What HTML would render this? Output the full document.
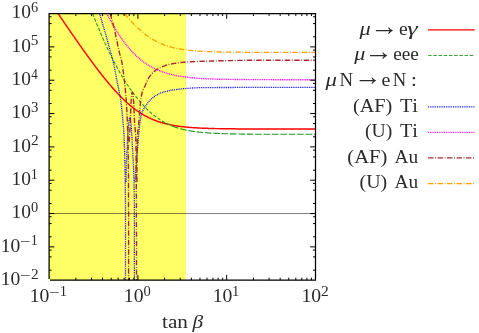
<!DOCTYPE html>
<html><head><meta charset="utf-8"><title>plot</title>
<style>html,body{margin:0;padding:0;background:#fff}svg{display:block}</style>
</head><body>
<svg width="479" height="333" viewBox="0 0 479 333">
<rect x="0" y="0" width="479" height="333" fill="#ffffff"/>
<rect x="49.1" y="13.55" width="136.9" height="266.65" fill="#ffff66"/>
<line x1="49.1" y1="213.54" x2="315.5" y2="213.54" stroke="#000" stroke-width="0.5"/>
<g fill="none" stroke-linejoin="round">
<path d="M58.1,13.6 L58.4,14.0 L58.9,14.7 L59.3,15.3 L59.8,16.0 L60.2,16.6 L60.7,17.3 L61.1,17.9 L61.6,18.6 L62.0,19.2 L62.4,19.9 L62.9,20.6 L63.3,21.2 L63.8,21.9 L64.2,22.5 L64.7,23.2 L65.1,23.8 L65.6,24.5 L66.0,25.1 L66.4,25.8 L66.9,26.4 L67.3,27.1 L67.8,27.7 L68.2,28.3 L68.7,29.0 L69.1,29.6 L69.6,30.3 L70.0,30.9 L70.4,31.6 L70.9,32.2 L71.3,32.9 L71.8,33.5 L72.2,34.2 L72.7,34.8 L73.1,35.4 L73.6,36.1 L74.0,36.7 L74.5,37.4 L74.9,38.0 L75.3,38.6 L75.8,39.3 L76.2,39.9 L76.7,40.5 L77.1,41.2 L77.6,41.8 L78.0,42.5 L78.5,43.1 L78.9,43.7 L79.3,44.4 L79.8,45.0 L80.2,45.6 L80.7,46.2 L81.1,46.9 L81.6,47.5 L82.0,48.1 L82.5,48.8 L82.9,49.4 L83.3,50.0 L83.8,50.6 L84.2,51.3 L84.7,51.9 L85.1,52.5 L85.6,53.1 L86.0,53.7 L86.5,54.4 L86.9,55.0 L87.3,55.6 L87.8,56.2 L88.2,56.8 L88.7,57.4 L89.1,58.0 L89.6,58.6 L90.0,59.3 L90.5,59.9 L90.9,60.5 L91.4,61.1 L91.8,61.7 L92.2,62.3 L92.7,62.9 L93.1,63.5 L93.6,64.1 L94.0,64.7 L94.5,65.3 L94.9,65.9 L95.4,66.4 L95.8,67.0 L96.2,67.6 L96.7,68.2 L97.1,68.8 L97.6,69.4 L98.0,70.0 L98.5,70.5 L98.9,71.1 L99.4,71.7 L99.8,72.3 L100.2,72.8 L100.7,73.4 L101.1,74.0 L101.6,74.5 L102.0,75.1 L102.5,75.7 L102.9,76.2 L103.4,76.8 L103.8,77.4 L104.2,77.9 L104.7,78.5 L105.1,79.0 L105.6,79.6 L106.0,80.1 L106.5,80.6 L106.9,81.2 L107.4,81.7 L107.8,82.3 L108.3,82.8 L108.7,83.3 L109.1,83.9 L109.6,84.4 L110.0,84.9 L110.5,85.4 L110.9,85.9 L111.4,86.5 L111.8,87.0 L112.3,87.5 L112.7,88.0 L113.1,88.5 L113.6,89.0 L114.0,89.5 L114.5,90.0 L114.9,90.5 L115.4,91.0 L115.8,91.5 L116.3,91.9 L116.7,92.4 L117.1,92.9 L117.6,93.4 L118.0,93.8 L118.5,94.3 L118.9,94.8 L119.4,95.2 L119.8,95.7 L120.3,96.2 L120.7,96.6 L121.1,97.1 L121.6,97.5 L122.0,97.9 L122.5,98.4 L122.9,98.8 L123.4,99.2 L123.8,99.7 L124.3,100.1 L124.7,100.5 L125.2,100.9 L125.6,101.3 L126.0,101.7 L126.5,102.2 L126.9,102.6 L127.4,103.0 L127.8,103.3 L128.3,103.7 L128.7,104.1 L129.2,104.5 L129.6,104.9 L130.0,105.3 L130.5,105.6 L130.9,106.0 L131.4,106.4 L131.8,106.7 L132.3,107.1 L132.7,107.4 L133.2,107.8 L133.6,108.1 L134.0,108.5 L134.5,108.8 L134.9,109.1 L135.4,109.5 L135.8,109.8 L136.3,110.1 L136.7,110.4 L137.2,110.8 L137.6,111.1 L138.0,111.4 L138.5,111.7 L138.9,112.0 L139.4,112.3 L139.8,112.6 L140.3,112.8 L140.7,113.1 L141.2,113.4 L141.6,113.7 L142.1,114.0 L142.5,114.2 L142.9,114.5 L143.4,114.8 L143.8,115.0 L144.3,115.3 L144.7,115.5 L145.2,115.8 L145.6,116.0 L146.1,116.2 L146.5,116.5 L146.9,116.7 L147.4,116.9 L147.8,117.2 L148.3,117.4 L148.7,117.6 L149.2,117.8 L149.6,118.0 L150.1,118.2 L150.5,118.5 L150.9,118.7 L151.4,118.9 L151.8,119.0 L152.3,119.2 L152.7,119.4 L153.2,119.6 L153.6,119.8 L154.1,120.0 L154.5,120.2 L154.9,120.3 L155.4,120.5 L155.8,120.7 L156.3,120.8 L156.7,121.0 L157.2,121.2 L157.6,121.3 L158.1,121.5 L158.5,121.6 L159.0,121.8 L159.4,121.9 L159.8,122.1 L160.3,122.2 L160.7,122.3 L161.2,122.5 L161.6,122.6 L162.1,122.7 L162.5,122.9 L163.0,123.0 L163.4,123.1 L163.8,123.2 L164.3,123.4 L164.7,123.5 L165.2,123.6 L165.6,123.7 L166.1,123.8 L166.5,123.9 L167.0,124.0 L167.4,124.1 L167.8,124.2 L168.3,124.3 L168.7,124.4 L169.2,124.5 L169.6,124.6 L170.1,124.7 L170.5,124.8 L171.0,124.9 L171.4,125.0 L171.8,125.1 L172.3,125.2 L172.7,125.2 L173.2,125.3 L173.6,125.4 L174.1,125.5 L174.5,125.6 L175.0,125.6 L175.4,125.7 L175.9,125.8 L176.3,125.8 L176.7,125.9 L177.2,126.0 L177.6,126.0 L178.1,126.1 L178.5,126.2 L179.0,126.2 L179.4,126.3 L179.9,126.4 L180.3,126.4 L180.7,126.5 L181.2,126.5 L181.6,126.6 L182.1,126.6 L182.5,126.7 L183.0,126.7 L183.4,126.8 L183.9,126.8 L184.3,126.9 L184.7,126.9 L185.2,127.0 L185.6,127.0 L186.1,127.1 L186.5,127.1 L187.0,127.1 L187.4,127.2 L187.9,127.2 L188.3,127.3 L188.7,127.3 L189.2,127.3 L189.6,127.4 L190.1,127.4 L190.5,127.4 L191.0,127.5 L191.4,127.5 L191.9,127.5 L192.3,127.6 L192.8,127.6 L193.2,127.6 L193.6,127.7 L194.1,127.7 L194.5,127.7 L195.0,127.8 L195.4,127.8 L195.9,127.8 L196.3,127.8 L196.8,127.9 L197.2,127.9 L197.6,127.9 L198.1,127.9 L198.5,128.0 L199.0,128.0 L199.4,128.0 L199.9,128.0 L200.3,128.1 L200.8,128.1 L201.2,128.1 L201.6,128.1 L202.1,128.1 L202.5,128.2 L203.0,128.2 L203.4,128.2 L203.9,128.2 L204.3,128.2 L204.8,128.2 L205.2,128.3 L205.6,128.3 L206.1,128.3 L206.5,128.3 L207.0,128.3 L207.4,128.3 L207.9,128.4 L208.3,128.4 L208.8,128.4 L209.2,128.4 L209.7,128.4 L210.1,128.4 L210.5,128.4 L211.0,128.5 L211.4,128.5 L211.9,128.5 L212.3,128.5 L212.8,128.5 L213.2,128.5 L213.7,128.5 L214.1,128.5 L214.5,128.5 L215.0,128.6 L215.4,128.6 L215.9,128.6 L216.3,128.6 L216.8,128.6 L217.2,128.6 L217.7,128.6 L218.1,128.6 L218.5,128.6 L219.0,128.6 L219.4,128.6 L219.9,128.7 L220.3,128.7 L220.8,128.7 L221.2,128.7 L221.7,128.7 L222.1,128.7 L222.5,128.7 L223.0,128.7 L223.4,128.7 L223.9,128.7 L224.3,128.7 L224.8,128.7 L225.2,128.7 L225.7,128.7 L226.1,128.8 L226.6,128.8 L227.0,128.8 L227.4,128.8 L227.9,128.8 L228.3,128.8 L228.8,128.8 L229.2,128.8 L229.7,128.8 L230.1,128.8 L230.6,128.8 L231.0,128.8 L231.4,128.8 L231.9,128.8 L232.3,128.8 L232.8,128.8 L233.2,128.8 L233.7,128.8 L234.1,128.8 L234.6,128.8 L235.0,128.8 L235.4,128.8 L235.9,128.9 L236.3,128.9 L236.8,128.9 L237.2,128.9 L237.7,128.9 L238.1,128.9 L238.6,128.9 L239.0,128.9 L239.4,128.9 L239.9,128.9 L240.3,128.9 L240.8,128.9 L241.2,128.9 L241.7,128.9 L242.1,128.9 L242.6,128.9 L243.0,128.9 L243.5,128.9 L243.9,128.9 L244.3,128.9 L244.8,128.9 L245.2,128.9 L245.7,128.9 L246.1,128.9 L246.6,128.9 L247.0,128.9 L247.5,128.9 L247.9,128.9 L248.3,128.9 L248.8,128.9 L249.2,128.9 L249.7,128.9 L250.1,128.9 L250.6,128.9 L251.0,128.9 L251.5,128.9 L251.9,128.9 L252.3,128.9 L252.8,128.9 L253.2,128.9 L253.7,128.9 L254.1,128.9 L254.6,128.9 L255.0,128.9 L255.5,128.9 L255.9,128.9 L256.3,129.0 L256.8,129.0 L257.2,129.0 L257.7,129.0 L258.1,129.0 L258.6,129.0 L259.0,129.0 L259.5,129.0 L259.9,129.0 L260.4,129.0 L260.8,129.0 L261.2,129.0 L261.7,129.0 L262.1,129.0 L262.6,129.0 L263.0,129.0 L263.5,129.0 L263.9,129.0 L264.4,129.0 L264.8,129.0 L265.2,129.0 L265.7,129.0 L266.1,129.0 L266.6,129.0 L267.0,129.0 L267.5,129.0 L267.9,129.0 L268.4,129.0 L268.8,129.0 L269.2,129.0 L269.7,129.0 L270.1,129.0 L270.6,129.0 L271.0,129.0 L271.5,129.0 L271.9,129.0 L272.4,129.0 L272.8,129.0 L273.2,129.0 L273.7,129.0 L274.1,129.0 L274.6,129.0 L275.0,129.0 L275.5,129.0 L275.9,129.0 L276.4,129.0 L276.8,129.0 L277.3,129.0 L277.7,129.0 L278.1,129.0 L278.6,129.0 L279.0,129.0 L279.5,129.0 L279.9,129.0 L280.4,129.0 L280.8,129.0 L281.3,129.0 L281.7,129.0 L282.1,129.0 L282.6,129.0 L283.0,129.0 L283.5,129.0 L283.9,129.0 L284.4,129.0 L284.8,129.0 L285.3,129.0 L285.7,129.0 L286.1,129.0 L286.6,129.0 L287.0,129.0 L287.5,129.0 L287.9,129.0 L288.4,129.0 L288.8,129.0 L289.3,129.0 L289.7,129.0 L290.1,129.0 L290.6,129.0 L291.0,129.0 L291.5,129.0 L291.9,129.0 L292.4,129.0 L292.8,129.0 L293.3,129.0 L293.7,129.0 L294.2,129.0 L294.6,129.0 L295.0,129.0 L295.5,129.0 L295.9,129.0 L296.4,129.0 L296.8,129.0 L297.3,129.0 L297.7,129.0 L298.2,129.0 L298.6,129.0 L299.0,129.0 L299.5,129.0 L299.9,129.0 L300.4,129.0 L300.8,129.0 L301.3,129.0 L301.7,129.0 L302.2,129.0 L302.6,129.0 L303.0,129.0 L303.5,129.0 L303.9,129.0 L304.4,129.0 L304.8,129.0 L305.3,129.0 L305.7,129.0 L306.2,129.0 L306.6,129.0 L307.0,129.0 L307.5,129.0 L307.9,129.0 L308.4,129.0 L308.8,129.0 L309.3,129.0 L309.7,129.0 L310.2,129.0 L310.6,129.0 L311.1,129.0 L311.5,129.0 L311.9,129.0 L312.4,129.0 L312.8,129.0 L313.3,129.0 L313.7,129.0 L314.2,129.0 L314.6,129.0 L315.1,129.0 L315.5,129.0" stroke="#ff0000" stroke-width="1.45"/>
<path d="M92.6,13.6 L92.7,13.7 L93.1,14.9 L93.6,16.0 L94.0,17.1 L94.5,18.2 L94.9,19.3 L95.4,20.4 L95.8,21.5 L96.2,22.6 L96.7,23.7 L97.1,24.8 L97.6,25.9 L98.0,27.0 L98.5,28.0 L98.9,29.1 L99.4,30.1 L99.8,31.2 L100.2,32.2 L100.7,33.3 L101.1,34.3 L101.6,35.4 L102.0,36.4 L102.5,37.4 L102.9,38.4 L103.4,39.4 L103.8,40.4 L104.2,41.4 L104.7,42.4 L105.1,43.4 L105.6,44.4 L106.0,45.3 L106.5,46.3 L106.9,47.3 L107.4,48.2 L107.8,49.2 L108.3,50.1 L108.7,51.0 L109.1,52.0 L109.6,52.9 L110.0,53.8 L110.5,54.7 L110.9,55.6 L111.4,56.5 L111.8,57.4 L112.3,58.3 L112.7,59.2 L113.1,60.0 L113.6,60.9 L114.0,61.8 L114.5,62.6 L114.9,63.5 L115.4,64.3 L115.8,65.1 L116.3,66.0 L116.7,66.8 L117.1,67.6 L117.6,68.4 L118.0,69.2 L118.5,70.0 L118.9,70.8 L119.4,71.6 L119.8,72.4 L120.3,73.1 L120.7,73.9 L121.1,74.7 L121.6,75.4 L122.0,76.2 L122.5,76.9 L122.9,77.6 L123.4,78.4 L123.8,79.1 L124.3,79.8 L124.7,80.5 L125.2,81.2 L125.6,81.9 L126.0,82.6 L126.5,83.3 L126.9,84.0 L127.4,84.7 L127.8,85.4 L128.3,86.0 L128.7,86.7 L129.2,87.4 L129.6,88.0 L130.0,88.6 L130.5,89.3 L130.9,89.9 L131.4,90.5 L131.8,91.2 L132.3,91.8 L132.7,92.4 L133.2,93.0 L133.6,93.6 L134.0,94.2 L134.5,94.8 L134.9,95.4 L135.4,96.0 L135.8,96.5 L136.3,97.1 L136.7,97.7 L137.2,98.2 L137.6,98.8 L138.0,99.3 L138.5,99.9 L138.9,100.4 L139.4,100.9 L139.8,101.4 L140.3,102.0 L140.7,102.5 L141.2,103.0 L141.6,103.5 L142.1,104.0 L142.5,104.5 L142.9,105.0 L143.4,105.4 L143.8,105.9 L144.3,106.4 L144.7,106.9 L145.2,107.3 L145.6,107.8 L146.1,108.2 L146.5,108.7 L146.9,109.1 L147.4,109.5 L147.8,110.0 L148.3,110.4 L148.7,110.8 L149.2,111.2 L149.6,111.6 L150.1,112.0 L150.5,112.4 L150.9,112.8 L151.4,113.2 L151.8,113.6 L152.3,114.0 L152.7,114.3 L153.2,114.7 L153.6,115.1 L154.1,115.4 L154.5,115.8 L154.9,116.1 L155.4,116.4 L155.8,116.8 L156.3,117.1 L156.7,117.4 L157.2,117.8 L157.6,118.1 L158.1,118.4 L158.5,118.7 L159.0,119.0 L159.4,119.3 L159.8,119.6 L160.3,119.9 L160.7,120.1 L161.2,120.4 L161.6,120.7 L162.1,121.0 L162.5,121.2 L163.0,121.5 L163.4,121.7 L163.8,122.0 L164.3,122.2 L164.7,122.5 L165.2,122.7 L165.6,123.0 L166.1,123.2 L166.5,123.4 L167.0,123.6 L167.4,123.9 L167.8,124.1 L168.3,124.3 L168.7,124.5 L169.2,124.7 L169.6,124.9 L170.1,125.1 L170.5,125.3 L171.0,125.5 L171.4,125.7 L171.8,125.8 L172.3,126.0" stroke="#219a21" stroke-width="1.1" stroke-dasharray="3.5 1.7"/>
<path d="M172.3,126.0 L172.7,126.2 L173.2,126.4 L173.6,126.5 L174.1,126.7 L174.5,126.9 L175.0,127.0 L175.4,127.2 L175.9,127.3 L176.3,127.5 L176.7,127.6 L177.2,127.8 L177.6,127.9 L178.1,128.0 L178.5,128.2 L179.0,128.3 L179.4,128.4 L179.9,128.6 L180.3,128.7 L180.7,128.8 L181.2,128.9 L181.6,129.0 L182.1,129.2 L182.5,129.3 L183.0,129.4 L183.4,129.5 L183.9,129.6 L184.3,129.7 L184.7,129.8 L185.2,129.9 L185.6,130.0 L186.1,130.1 L186.5,130.2 L187.0,130.3 L187.4,130.4 L187.9,130.4 L188.3,130.5 L188.7,130.6 L189.2,130.7 L189.6,130.8 L190.1,130.9 L190.5,130.9 L191.0,131.0 L191.4,131.1 L191.9,131.1 L192.3,131.2 L192.8,131.3 L193.2,131.4 L193.6,131.4 L194.1,131.5 L194.5,131.5 L195.0,131.6 L195.4,131.7 L195.9,131.7 L196.3,131.8 L196.8,131.8 L197.2,131.9 L197.6,131.9 L198.1,132.0 L198.5,132.1 L199.0,132.1 L199.4,132.2 L199.9,132.2 L200.3,132.2 L200.8,132.3 L201.2,132.3 L201.6,132.4 L202.1,132.4 L202.5,132.5 L203.0,132.5 L203.4,132.5 L203.9,132.6 L204.3,132.6 L204.8,132.7 L205.2,132.7 L205.6,132.7 L206.1,132.8 L206.5,132.8 L207.0,132.8 L207.4,132.9 L207.9,132.9 L208.3,132.9 L208.8,133.0 L209.2,133.0 L209.7,133.0 L210.1,133.1 L210.5,133.1 L211.0,133.1 L211.4,133.1 L211.9,133.2 L212.3,133.2 L212.8,133.2 L213.2,133.2 L213.7,133.3 L214.1,133.3 L214.5,133.3 L215.0,133.3 L215.4,133.4 L215.9,133.4 L216.3,133.4 L216.8,133.4 L217.2,133.4 L217.7,133.5 L218.1,133.5 L218.5,133.5 L219.0,133.5 L219.4,133.5 L219.9,133.5 L220.3,133.6 L220.8,133.6 L221.2,133.6 L221.7,133.6 L222.1,133.6 L222.5,133.6 L223.0,133.7 L223.4,133.7 L223.9,133.7 L224.3,133.7 L224.8,133.7 L225.2,133.7 L225.7,133.7 L226.1,133.8 L226.6,133.8 L227.0,133.8 L227.4,133.8 L227.9,133.8 L228.3,133.8 L228.8,133.8 L229.2,133.8 L229.7,133.8 L230.1,133.9 L230.6,133.9 L231.0,133.9 L231.4,133.9 L231.9,133.9 L232.3,133.9 L232.8,133.9 L233.2,133.9 L233.7,133.9 L234.1,133.9 L234.6,133.9 L235.0,134.0 L235.4,134.0 L235.9,134.0 L236.3,134.0 L236.8,134.0 L237.2,134.0 L237.7,134.0 L238.1,134.0 L238.6,134.0 L239.0,134.0 L239.4,134.0 L239.9,134.0 L240.3,134.0 L240.8,134.0 L241.2,134.0 L241.7,134.1 L242.1,134.1 L242.6,134.1 L243.0,134.1 L243.5,134.1 L243.9,134.1 L244.3,134.1 L244.8,134.1 L245.2,134.1 L245.7,134.1 L246.1,134.1 L246.6,134.1 L247.0,134.1 L247.5,134.1 L247.9,134.1 L248.3,134.1 L248.8,134.1 L249.2,134.1 L249.7,134.1 L250.1,134.1 L250.6,134.1 L251.0,134.1 L251.5,134.1 L251.9,134.2 L252.3,134.2 L252.8,134.2 L253.2,134.2 L253.7,134.2 L254.1,134.2 L254.6,134.2 L255.0,134.2 L255.5,134.2 L255.9,134.2 L256.3,134.2 L256.8,134.2 L257.2,134.2 L257.7,134.2 L258.1,134.2 L258.6,134.2 L259.0,134.2 L259.5,134.2 L259.9,134.2 L260.4,134.2 L260.8,134.2 L261.2,134.2 L261.7,134.2 L262.1,134.2 L262.6,134.2 L263.0,134.2 L263.5,134.2 L263.9,134.2 L264.4,134.2 L264.8,134.2 L265.2,134.2 L265.7,134.2 L266.1,134.2 L266.6,134.2 L267.0,134.2 L267.5,134.2 L267.9,134.2 L268.4,134.2 L268.8,134.2 L269.2,134.2 L269.7,134.2 L270.1,134.2 L270.6,134.2 L271.0,134.2 L271.5,134.2 L271.9,134.2 L272.4,134.2 L272.8,134.2 L273.2,134.2 L273.7,134.2 L274.1,134.3 L274.6,134.3 L275.0,134.3 L275.5,134.3 L275.9,134.3 L276.4,134.3 L276.8,134.3 L277.3,134.3 L277.7,134.3 L278.1,134.3 L278.6,134.3 L279.0,134.3 L279.5,134.3 L279.9,134.3 L280.4,134.3 L280.8,134.3 L281.3,134.3 L281.7,134.3 L282.1,134.3 L282.6,134.3 L283.0,134.3 L283.5,134.3 L283.9,134.3 L284.4,134.3 L284.8,134.3 L285.3,134.3 L285.7,134.3 L286.1,134.3 L286.6,134.3 L287.0,134.3 L287.5,134.3 L287.9,134.3 L288.4,134.3 L288.8,134.3 L289.3,134.3 L289.7,134.3 L290.1,134.3 L290.6,134.3 L291.0,134.3 L291.5,134.3 L291.9,134.3 L292.4,134.3 L292.8,134.3 L293.3,134.3 L293.7,134.3 L294.2,134.3 L294.6,134.3 L295.0,134.3 L295.5,134.3 L295.9,134.3 L296.4,134.3 L296.8,134.3 L297.3,134.3 L297.7,134.3 L298.2,134.3 L298.6,134.3 L299.0,134.3 L299.5,134.3 L299.9,134.3 L300.4,134.3 L300.8,134.3 L301.3,134.3 L301.7,134.3 L302.2,134.3 L302.6,134.3 L303.0,134.3 L303.5,134.3 L303.9,134.3 L304.4,134.3 L304.8,134.3 L305.3,134.3 L305.7,134.3 L306.2,134.3 L306.6,134.3 L307.0,134.3 L307.5,134.3 L307.9,134.3 L308.4,134.3 L308.8,134.3 L309.3,134.3 L309.7,134.3 L310.2,134.3 L310.6,134.3 L311.1,134.3 L311.5,134.3 L311.9,134.3 L312.4,134.3 L312.8,134.3 L313.3,134.3 L313.7,134.3 L314.2,134.3 L314.6,134.3 L315.1,134.3 L315.5,134.3" stroke="#219a21" stroke-width="1.1" stroke-dasharray="6.6 1.8"/>
<path d="M99.5,13.6 L99.8,14.4 L100.0,15.3 L100.3,16.1 L100.6,17.0 L100.8,17.9 L101.1,18.7 L101.3,19.6 L101.6,20.4 L101.9,21.3 L102.1,22.2 L102.4,23.0 L102.6,23.9 L102.9,24.8 L103.1,25.6 L103.4,26.5 L103.7,27.4 L103.9,28.2 L104.2,29.1 L104.4,30.0 L104.7,30.8 L104.9,31.7 L105.2,32.6 L105.4,33.4 L105.7,34.3 L105.9,35.2 L106.1,36.0 L106.4,36.9 L106.6,37.8 L106.9,38.6 L107.1,39.5 L107.4,40.4 L107.6,41.2 L107.8,42.1 L108.1,43.0 L108.3,43.8 L108.5,44.7 L108.8,45.6 L109.0,46.4 L109.3,47.3 L109.5,48.2 L109.7,49.1 L110.0,49.9 L110.2,50.8 L110.5,51.7 L110.7,52.5 L111.0,53.4 L111.2,54.3 L111.5,55.1 L111.7,56.0 L111.9,56.9 L112.2,57.7 L112.4,58.6 L112.6,59.5 L112.8,60.3 L113.1,61.2 L113.3,62.1 L113.5,63.0 L113.6,63.9 L113.8,64.7 L114.0,65.6 L114.2,66.5 L114.4,67.4 L114.6,68.3 L114.7,69.2 L114.9,70.0 L115.1,70.9 L115.3,71.8 L115.4,72.7 L115.6,73.6 L115.8,74.5 L115.9,75.4 L116.1,76.2 L116.3,77.1 L116.4,78.0 L116.6,78.9 L116.8,79.8 L116.9,80.7 L117.1,81.6 L117.3,82.4 L117.5,83.3 L117.6,84.2 L117.8,85.1 L118.0,86.0 L118.2,86.9 L118.4,87.7 L118.6,88.6 L118.7,89.5 L118.9,90.4 L119.1,91.3 L119.3,92.2 L119.5,93.0 L119.6,93.9 L119.8,94.8 L120.0,95.7 L120.1,96.6 L120.3,97.5 L120.4,98.4 L120.5,99.2 L120.7,100.1 L120.8,101.0 L120.9,101.9 L121.0,102.8 L121.2,103.7 L121.3,104.6 L121.4,105.5 L121.5,106.4 L121.6,107.3 L121.7,108.2 L121.8,109.1 L121.9,110.0 L122.0,110.9 L122.1,111.8 L122.1,112.7 L122.2,113.6 L122.3,114.5 L122.4,115.4 L122.5,116.3 L122.6,117.2 L122.6,118.1 L122.7,119.0 L122.8,119.8 L122.9,120.7 L123.0,121.6 L123.0,122.5 L123.1,123.4 L123.2,124.3 L123.2,125.2 L123.3,126.1 L123.4,127.0 L123.5,127.9 L123.5,128.8 L123.6,129.7 L123.7,130.6 L123.7,131.5 L123.8,132.4 L123.9,133.3 L123.9,134.2 L124.0,135.1 L124.0,136.0 L124.1,136.9 L124.1,137.8 L124.1,138.7 L124.2,139.6 L124.2,140.5 L124.3,141.4 L124.3,142.3 L124.3,143.2 L124.3,144.1 L124.4,145.0 L124.4,145.9 L124.4,146.8 L124.5,147.7 L124.5,148.6 L124.5,149.5 L124.6,150.4 L124.6,151.3 L124.6,152.2 L124.6,153.1 L124.7,154.0 L124.7,154.9 L124.7,155.8 L124.7,156.7 L124.7,157.6 L124.8,158.5 L124.8,159.4 L124.8,160.3 L124.8,161.2 L124.9,162.1 L124.9,163.0 L124.9,163.9 L124.9,164.8 L124.9,165.7 L125.0,166.7 L125.0,167.6 L125.0,168.5 L125.0,169.4 L125.0,170.3 L125.0,171.2 L125.1,172.1 L125.1,173.0 L125.1,173.9 L125.1,174.8 L125.1,175.7 L125.1,176.6 L125.1,177.5 L125.2,178.4 L125.2,179.3 L125.2,180.2 L125.2,181.1 L125.2,182.0 L125.2,182.9 L125.2,183.8 L125.2,184.7 L125.2,185.6 L125.3,186.5 L125.3,187.4 L125.3,188.3 L125.3,189.2 L125.3,190.1 L125.3,191.0 L125.3,191.9 L125.3,192.8 L125.3,193.7 L125.4,194.6 L125.4,195.5 L125.4,196.4 L125.4,197.3 L125.4,198.2 L125.4,199.1 L125.4,200.0 L125.4,200.9 L125.4,201.8 L125.4,202.7 L125.5,203.6 L125.5,204.5 L125.5,205.4 L125.5,206.3 L125.5,207.2 L125.5,208.1 L125.5,209.0 L125.5,209.9 L125.5,210.8 L125.5,211.7 L125.5,212.6 L125.5,213.5 L125.5,214.4 L125.5,215.3 L125.5,216.2 L125.5,217.1 L125.5,218.0 L125.5,218.9 L125.5,219.8 L125.5,220.7 L125.5,221.6 L125.5,222.5 L125.5,223.4 L125.5,224.3 L125.5,225.2 L125.5,226.1 L125.5,227.0 L125.5,227.9 L125.5,228.8 L125.5,229.7 L125.5,230.6 L125.5,231.5 L125.5,232.4 L125.5,233.3 L125.5,234.2 L125.5,235.1 L125.5,236.0 L125.5,236.9 L125.5,237.8 L125.5,238.7 L125.5,239.6 L125.5,240.5 L125.5,241.4 L125.5,242.3 L125.5,243.3 L125.5,244.2 L125.5,245.1 L125.5,246.0 L125.5,246.9 L125.5,247.8 L125.5,248.7 L125.5,249.6 L125.5,250.5 L125.5,251.4 L125.5,252.3 L125.5,253.2 L125.5,254.1 L125.5,255.0 L125.5,255.9 L125.5,256.8 L125.5,257.7 L125.5,258.6 L125.5,259.5 L125.5,260.4 L125.5,261.3 L125.5,262.2 L125.5,263.1 L125.5,264.0 L125.5,264.9 L125.5,265.8 L125.5,266.7 L125.5,267.6 L125.5,268.5 L125.5,269.4 L125.5,270.3 L125.5,271.2 L125.5,272.1 L125.5,273.0 L125.5,273.9 L125.5,274.8 L125.5,275.7 L125.5,276.6 L125.5,277.5 L125.5,278.4 L125.5,279.3 L125.5,280.2 M126.0,182.0 L126.0,181.2 L126.0,180.5 L126.0,179.7 L126.0,179.0 L126.1,178.2 L126.1,177.4 L126.1,176.7 L126.1,175.9 L126.1,175.1 L126.1,174.4 L126.2,173.6 L126.2,172.9 L126.2,172.1 L126.2,171.3 L126.2,170.6 L126.3,169.8 L126.3,169.1 L126.3,168.3 L126.3,167.5 L126.4,166.8 L126.4,166.0 L126.4,165.3 L126.4,164.5 L126.5,163.7 L126.5,163.0 L126.5,162.2 L126.5,161.5 L126.6,160.7 L126.6,159.9 L126.6,159.2 L126.7,158.4 L126.7,157.7 L126.7,156.9 L126.8,156.1 L126.8,155.4 L126.8,154.6 L126.9,153.8 L126.9,153.1 L126.9,152.3 L127.0,151.6 L127.0,150.8 L127.0,150.0 L127.1,149.3 L127.1,148.5 L127.2,147.8 L127.2,147.0 L127.2,146.2 L127.3,145.5 L127.3,144.7 L127.3,144.0 L127.4,143.2 L127.4,142.4 L127.5,141.7 L127.5,140.9 L127.5,140.2 L127.6,139.4 L127.6,138.7 L127.7,137.9 L127.7,137.1 L127.7,136.4 L127.8,135.6 L127.8,134.8 L127.9,134.1 L127.9,133.3 L128.0,132.6 L128.0,131.8 L128.1,131.0 L128.1,130.3 L128.2,129.5 L128.3,128.8 L128.3,128.0 L128.4,127.3 L128.5,126.5 L128.5,125.7 L128.6,125.0 L128.7,124.2 L128.8,123.2 L128.9,122.2 L129.0,121.2 L129.1,120.3 L129.3,119.4 L129.4,118.6 L129.5,118.0 L129.7,117.6 L129.8,117.5 L130.0,117.7 L130.1,118.2 L130.3,119.0 L130.5,119.9 L130.6,120.9 L130.8,121.9 L130.9,122.7 L131.0,123.5 L131.0,124.3 L131.1,125.0 L131.2,125.8 L131.2,126.5 L131.3,127.3 L131.4,128.0 L131.4,128.8 L131.5,129.6 L131.5,130.3 L131.6,131.1 L131.6,131.8 L131.7,132.6 L131.7,133.4 L131.7,134.1 L131.8,134.9 L131.8,135.6 L131.9,136.4 L131.9,137.2 L131.9,137.9 L132.0,138.7 L132.0,139.5 L132.1,140.2 L132.1,141.0 L132.2,141.7 L132.2,142.5 L132.2,143.3 L132.3,144.0 L132.3,144.8 L132.4,145.5 L132.4,146.3 L132.5,147.1 L132.5,147.8 L132.6,148.6 L132.6,149.3 L132.6,150.1 L132.7,150.9 L132.7,151.6 L132.8,152.4 L132.8,153.1 L132.9,153.9 L132.9,154.7 L132.9,155.4 L133.0,156.2 L133.0,156.9 L133.1,157.7 L133.1,158.5 L133.1,159.2 L133.2,160.0 L133.2,160.7 L133.3,161.5 L133.3,162.3 L133.3,163.0 L133.4,163.8 L133.4,164.5 L133.4,165.3 L133.5,166.1 L133.5,166.8 L133.5,167.6 L133.6,168.3 L133.6,169.1 L133.6,169.9 L133.7,170.6 L133.7,171.4 L133.7,172.1 L133.7,172.9 L133.8,173.7 L133.8,174.4 L133.8,175.2 L133.9,175.9 L133.9,176.7 L133.9,177.5 L133.9,178.2 L133.9,179.0 L134.0,179.7 L134.0,180.5 L134.0,181.3 L134.0,182.0 L134.0,182.8 L134.0,183.5 L134.0,184.3 L134.1,185.1 L134.1,185.8 L134.1,186.6 L134.1,187.4 L134.1,188.1 L134.1,188.9 L134.1,189.6 L134.2,190.4 L134.2,191.2 L134.2,191.9 L134.2,192.7 L134.2,193.4 L134.2,194.2 L134.2,195.0 L134.2,195.7 L134.2,196.5 L134.3,197.2 L134.3,198.0 L134.3,198.8 L134.3,199.5 L134.3,200.3 L134.3,201.0 L134.3,201.8 L134.3,202.6 L134.3,203.3 L134.3,204.1 L134.4,204.9 L134.4,205.6 L134.4,206.4 L134.4,207.1 L134.4,207.9 L134.4,208.7 L134.4,209.4 L134.4,210.2 L134.4,210.9 L134.4,211.7 L134.4,212.5 L134.4,213.2 L134.4,214.0 L134.4,214.7 L134.4,215.5 L134.4,216.3 L134.4,217.0 L134.4,217.8 L134.4,218.6 L134.4,219.3 L134.4,220.1 L134.4,220.8 L134.4,221.6 L134.4,222.4 L134.4,223.1 L134.4,223.9 L134.4,224.6 L134.4,225.4 L134.4,226.2 L134.4,226.9 L134.4,227.7 L134.4,228.4 L134.4,229.2 L134.4,230.0 L134.4,230.7 L134.4,231.5 L134.4,232.3 L134.4,233.0 L134.4,233.8 L134.4,234.5 L134.4,235.3 L134.4,236.1 L134.4,236.8 L134.4,237.6 L134.4,238.3 L134.4,239.1 L134.4,239.9 L134.4,240.6 L134.4,241.4 L134.4,242.1 L134.4,242.9 L134.4,243.7 L134.4,244.4 L134.4,245.2 L134.4,246.0 L134.4,246.7 L134.4,247.5 L134.4,248.2 L134.4,249.0 L134.4,249.8 L134.4,250.5 L134.4,251.3 L134.4,252.0 L134.4,252.8 L134.4,253.6 L134.4,254.3 L134.4,255.1 L134.4,255.8 L134.4,256.6 L134.4,257.4 L134.4,258.1 L134.4,258.9 L134.4,259.7 L134.4,260.4 L134.4,261.2 L134.4,261.9 L134.4,262.7 L134.4,263.5 L134.4,264.2 L134.4,265.0 L134.4,265.7 L134.4,266.5 L134.4,267.3 L134.4,268.0 L134.4,268.8 L134.4,269.5 L134.4,270.3 L134.4,271.1 L134.4,271.8 L134.4,272.6 L134.4,273.4 L134.4,274.1 L134.4,274.9 L134.4,275.6 L134.4,276.4 L134.4,277.2 L134.4,277.9 L134.4,278.7 L134.4,279.4 L134.4,280.2 M135.1,182.0 L135.1,181.2 L135.2,180.3 L135.2,179.5 L135.3,178.6 L135.3,177.8 L135.4,176.9 L135.4,176.1 L135.5,175.2 L135.5,174.4 L135.6,173.6 L135.6,172.7 L135.7,171.9 L135.8,171.0 L135.8,170.2 L135.9,169.3 L135.9,168.5 L136.0,167.6 L136.0,166.8 L136.1,166.0 L136.2,165.1 L136.2,164.3 L136.3,163.4 L136.3,162.6 L136.4,161.7 L136.5,160.9 L136.5,160.1 L136.6,159.2 L136.7,158.4 L136.7,157.5 L136.8,156.7 L136.9,155.8 L136.9,155.0 L137.0,154.2 L137.1,153.3 L137.1,152.5 L137.2,151.6 L137.3,150.8 L137.3,149.9 L137.4,149.1 L137.5,148.3 L137.6,147.4 L137.6,146.6 L137.7,145.7 L137.8,144.9 L137.9,144.0 L137.9,143.2 L138.0,142.4 L138.1,141.5 L138.2,140.7 L138.2,139.8 L138.3,139.0 L138.4,138.2 L138.5,137.3 L138.5,136.5 L138.6,135.6 L138.7,134.8 L138.8,133.9 L138.8,133.1 L138.9,132.3 L139.0,131.4 L139.1,130.6 L139.2,129.7 L139.2,128.9 L139.3,128.0 L139.4,127.2 L139.5,126.4 L139.6,125.5 L139.7,124.7 L139.8,123.8 L139.9,123.0 L140.0,122.2 L140.2,121.3 L140.3,120.5 L140.4,119.7 L140.5,118.8 L140.7,118.0 L140.8,117.1 L141.0,116.3 L141.1,115.5 L141.3,114.7 L141.5,113.9 L141.8,113.1 L142.1,112.3 L142.4,111.5 L142.8,110.8 L143.2,110.0 L143.7,109.2 L144.1,108.5 L144.5,107.8 L145.0,107.1 L145.4,106.3 L145.9,105.6 L146.3,104.9 L146.8,104.2 L147.3,103.5 L147.8,102.8 L148.4,102.2 L148.9,101.5 L149.5,100.9 L150.0,100.3 L150.6,99.7 L151.2,99.1 L151.8,98.5 L152.5,98.0 L153.2,97.4 L153.8,96.9 L154.5,96.4 L155.2,96.0 L155.9,95.5 L156.6,95.0 L157.4,94.6 L158.1,94.2 L158.9,93.8 L159.6,93.4 L160.4,93.1 L161.2,92.8 L162.0,92.6 L162.8,92.3 L163.6,92.0 L164.4,91.8 L165.2,91.6 L166.1,91.4 L166.9,91.1 L167.7,91.0 L168.6,90.8 L169.4,90.6 L170.2,90.5 L171.0,90.3 L171.9,90.2 L172.7,90.0 L173.5,89.9 L174.4,89.8 L175.2,89.7 L176.0,89.6 L176.9,89.4 L177.7,89.3 L178.6,89.2 L179.4,89.1 L180.3,89.0 L181.1,88.9 L181.9,88.9 L182.8,88.8 L183.6,88.7 L184.5,88.6 L185.3,88.6 L186.2,88.5 L187.0,88.4 L187.8,88.4 L188.7,88.3 L189.5,88.2 L190.4,88.2 L191.2,88.1 L192.1,88.0 L192.9,88.0 L193.7,87.9 L194.6,87.9 L195.4,87.8 L196.3,87.8 L197.1,87.8 L198.0,87.7 L198.8,87.7 L199.7,87.7 L200.5,87.7 L201.4,87.7 L202.2,87.7 L203.0,87.7 L203.9,87.7 L204.7,87.7 L205.6,87.6 L206.4,87.6 L207.3,87.6 L208.1,87.6 L209.0,87.6 L209.8,87.6 L210.6,87.6 L211.5,87.6 L212.3,87.6 L213.2,87.6 L214.0,87.6 L214.9,87.6 L215.7,87.6 L216.6,87.5 L217.4,87.5 L218.3,87.5 L219.1,87.5 L219.9,87.5 L220.8,87.5 L221.6,87.5 L222.5,87.5 L223.3,87.5 L224.2,87.5 L225.0,87.5 L225.9,87.5 L226.7,87.5 L227.6,87.5 L228.4,87.5 L229.2,87.5 L230.1,87.5 L230.9,87.5 L231.8,87.5 L232.6,87.5 L233.5,87.5 L234.3,87.4 L235.2,87.4 L236.0,87.4 L236.9,87.4 L237.7,87.4 L238.6,87.4 L239.4,87.4 L240.2,87.4 L241.1,87.4 L241.9,87.4 L242.8,87.4 L243.6,87.4 L244.5,87.4 L245.3,87.4 L246.2,87.4 L247.0,87.4 L247.9,87.4 L248.7,87.4 L249.5,87.4 L250.4,87.4 L251.2,87.4 L252.1,87.4 L252.9,87.4 L253.8,87.4 L254.6,87.4 L255.5,87.4 L256.3,87.4 L257.2,87.4 L258.0,87.4 L258.8,87.4 L259.7,87.4 L260.5,87.4 L261.4,87.4 L262.2,87.4 L263.1,87.4 L263.9,87.4 L264.8,87.4 L265.6,87.4 L266.5,87.4 L267.3,87.4 L268.1,87.4 L269.0,87.4 L269.8,87.4 L270.7,87.4 L271.5,87.4 L272.4,87.4 L273.2,87.4 L274.1,87.4 L274.9,87.4 L275.8,87.4 L276.6,87.4 L277.5,87.4 L278.3,87.4 L279.1,87.4 L280.0,87.4 L280.8,87.4 L281.7,87.4 L282.5,87.4 L283.4,87.4 L284.2,87.4 L285.1,87.4 L285.9,87.4 L286.8,87.4 L287.6,87.4 L288.4,87.4 L289.3,87.4 L290.1,87.4 L291.0,87.4 L291.8,87.4 L292.7,87.4 L293.5,87.4 L294.4,87.4 L295.2,87.4 L296.1,87.4 L296.9,87.4 L297.7,87.4 L298.6,87.4 L299.4,87.4 L300.3,87.4 L301.1,87.4 L302.0,87.4 L302.8,87.4 L303.7,87.4 L304.5,87.4 L305.4,87.4 L306.2,87.4 L307.0,87.4 L307.9,87.4 L308.7,87.4 L309.6,87.4 L310.4,87.4 L311.3,87.4 L312.1,87.4 L313.0,87.4 L313.8,87.4 L314.7,87.4 L315.5,87.4" stroke="#0000ff" stroke-width="1.3" stroke-dasharray="0.9 0.9"/>
<path d="M106.6,13.6 L106.9,14.1 L107.4,14.9 L107.8,15.7 L108.3,16.5 L108.7,17.3 L109.1,18.1 L109.6,18.9 L110.0,19.7 L110.5,20.5 L110.9,21.3 L111.4,22.1 L111.8,22.9 L112.3,23.6 L112.7,24.4 L113.1,25.2 L113.6,25.9 L114.0,26.7 L114.5,27.4 L114.9,28.2 L115.4,28.9 L115.8,29.6 L116.3,30.3 L116.7,31.1 L117.1,31.8 L117.6,32.5 L118.0,33.2 L118.5,33.8 L118.9,34.5 L119.4,35.2 L119.8,35.9 L120.3,36.5 L120.7,37.2 L121.1,37.8 L121.6,38.5 L122.0,39.1 L122.5,39.8 L122.9,40.4 L123.4,41.0 L123.8,41.6 L124.3,42.2 L124.7,42.8 L125.2,43.4 L125.6,44.0 L126.0,44.5 L126.5,45.1 L126.9,45.7 L127.4,46.2 L127.8,46.8 L128.3,47.3 L128.7,47.8 L129.2,48.4 L129.6,48.9 L130.0,49.4 L130.5,49.9 L130.9,50.4 L131.4,50.9 L131.8,51.4 L132.3,51.9 L132.7,52.3 L133.2,52.8 L133.6,53.3 L134.0,53.7 L134.5,54.2 L134.9,54.6 L135.4,55.0 L135.8,55.5 L136.3,55.9 L136.7,56.3 L137.2,56.7 L137.6,57.1 L138.0,57.5 L138.5,57.9 L138.9,58.3 L139.4,58.6 L139.8,59.0 L140.3,59.4 L140.7,59.7 L141.2,60.1 L141.6,60.4 L142.1,60.8 L142.5,61.1 L142.9,61.5 L143.4,61.8 L143.8,62.1 L144.3,62.4 L144.7,62.7 L145.2,63.1 L145.6,63.4 L146.1,63.7 L146.5,63.9 L146.9,64.2 L147.4,64.5 L147.8,64.8 L148.3,65.1 L148.7,65.3 L149.2,65.6 L149.6,65.9 L150.1,66.1 L150.5,66.4 L150.9,66.6 L151.4,66.9 L151.8,67.1 L152.3,67.4 L152.7,67.6 L153.2,67.8 L153.6,68.0 L154.1,68.3 L154.5,68.5 L154.9,68.7 L155.4,68.9 L155.8,69.1 L156.3,69.3 L156.7,69.5 L157.2,69.7 L157.6,69.9 L158.1,70.1 L158.5,70.3 L159.0,70.5 L159.4,70.6 L159.8,70.8 L160.3,71.0 L160.7,71.2 L161.2,71.3 L161.6,71.5 L162.1,71.7 L162.5,71.8 L163.0,72.0 L163.4,72.1 L163.8,72.3 L164.3,72.4 L164.7,72.6 L165.2,72.7 L165.6,72.9 L166.1,73.0 L166.5,73.1 L167.0,73.3 L167.4,73.4 L167.8,73.5 L168.3,73.6 L168.7,73.8 L169.2,73.9 L169.6,74.0 L170.1,74.1 L170.5,74.2 L171.0,74.4 L171.4,74.5 L171.8,74.6 L172.3,74.7 L172.7,74.8 L173.2,74.9 L173.6,75.0 L174.1,75.1 L174.5,75.2 L175.0,75.3 L175.4,75.4 L175.9,75.5 L176.3,75.5 L176.7,75.6 L177.2,75.7 L177.6,75.8 L178.1,75.9 L178.5,76.0 L179.0,76.0 L179.4,76.1 L179.9,76.2 L180.3,76.3 L180.7,76.3 L181.2,76.4 L181.6,76.5 L182.1,76.5 L182.5,76.6 L183.0,76.7 L183.4,76.7 L183.9,76.8 L184.3,76.9 L184.7,76.9 L185.2,77.0 L185.6,77.0 L186.1,77.1 L186.5,77.2 L187.0,77.2 L187.4,77.3 L187.9,77.3 L188.3,77.4 L188.7,77.4 L189.2,77.5 L189.6,77.5 L190.1,77.6 L190.5,77.6 L191.0,77.7 L191.4,77.7 L191.9,77.7 L192.3,77.8 L192.8,77.8 L193.2,77.9 L193.6,77.9 L194.1,77.9 L194.5,78.0 L195.0,78.0 L195.4,78.1 L195.9,78.1 L196.3,78.1 L196.8,78.2 L197.2,78.2 L197.6,78.2 L198.1,78.3 L198.5,78.3 L199.0,78.3 L199.4,78.4 L199.9,78.4 L200.3,78.4 L200.8,78.4 L201.2,78.5 L201.6,78.5 L202.1,78.5 L202.5,78.5 L203.0,78.6 L203.4,78.6 L203.9,78.6 L204.3,78.6 L204.8,78.7 L205.2,78.7 L205.6,78.7 L206.1,78.7 L206.5,78.8 L207.0,78.8 L207.4,78.8 L207.9,78.8 L208.3,78.8 L208.8,78.9 L209.2,78.9 L209.7,78.9 L210.1,78.9 L210.5,78.9 L211.0,78.9 L211.4,79.0 L211.9,79.0 L212.3,79.0 L212.8,79.0 L213.2,79.0 L213.7,79.0 L214.1,79.1 L214.5,79.1 L215.0,79.1 L215.4,79.1 L215.9,79.1 L216.3,79.1 L216.8,79.1 L217.2,79.1 L217.7,79.2 L218.1,79.2 L218.5,79.2 L219.0,79.2 L219.4,79.2 L219.9,79.2 L220.3,79.2 L220.8,79.2 L221.2,79.2 L221.7,79.3 L222.1,79.3 L222.5,79.3 L223.0,79.3 L223.4,79.3 L223.9,79.3 L224.3,79.3 L224.8,79.3 L225.2,79.3 L225.7,79.3 L226.1,79.3 L226.6,79.3 L227.0,79.4 L227.4,79.4 L227.9,79.4 L228.3,79.4 L228.8,79.4 L229.2,79.4 L229.7,79.4 L230.1,79.4 L230.6,79.4 L231.0,79.4 L231.4,79.4 L231.9,79.4 L232.3,79.4 L232.8,79.4 L233.2,79.4 L233.7,79.4 L234.1,79.5 L234.6,79.5 L235.0,79.5 L235.4,79.5 L235.9,79.5 L236.3,79.5 L236.8,79.5 L237.2,79.5 L237.7,79.5 L238.1,79.5 L238.6,79.5 L239.0,79.5 L239.4,79.5 L239.9,79.5 L240.3,79.5 L240.8,79.5 L241.2,79.5 L241.7,79.5 L242.1,79.5 L242.6,79.5 L243.0,79.5 L243.5,79.5 L243.9,79.5 L244.3,79.5 L244.8,79.5 L245.2,79.6 L245.7,79.6 L246.1,79.6 L246.6,79.6 L247.0,79.6 L247.5,79.6 L247.9,79.6 L248.3,79.6 L248.8,79.6 L249.2,79.6 L249.7,79.6 L250.1,79.6 L250.6,79.6 L251.0,79.6 L251.5,79.6 L251.9,79.6 L252.3,79.6 L252.8,79.6 L253.2,79.6 L253.7,79.6 L254.1,79.6 L254.6,79.6 L255.0,79.6 L255.5,79.6 L255.9,79.6 L256.3,79.6 L256.8,79.6 L257.2,79.6 L257.7,79.6 L258.1,79.6 L258.6,79.6 L259.0,79.6 L259.5,79.6 L259.9,79.6 L260.4,79.6 L260.8,79.6 L261.2,79.6 L261.7,79.6 L262.1,79.6 L262.6,79.6 L263.0,79.6 L263.5,79.6 L263.9,79.6 L264.4,79.6 L264.8,79.6 L265.2,79.6 L265.7,79.6 L266.1,79.6 L266.6,79.6 L267.0,79.6 L267.5,79.6 L267.9,79.6 L268.4,79.6 L268.8,79.6 L269.2,79.6 L269.7,79.6 L270.1,79.6 L270.6,79.6 L271.0,79.6 L271.5,79.6 L271.9,79.6 L272.4,79.6 L272.8,79.6 L273.2,79.6 L273.7,79.7 L274.1,79.7 L274.6,79.7 L275.0,79.7 L275.5,79.7 L275.9,79.7 L276.4,79.7 L276.8,79.7 L277.3,79.7 L277.7,79.7 L278.1,79.7 L278.6,79.7 L279.0,79.7 L279.5,79.7 L279.9,79.7 L280.4,79.7 L280.8,79.7 L281.3,79.7 L281.7,79.7 L282.1,79.7 L282.6,79.7 L283.0,79.7 L283.5,79.7 L283.9,79.7 L284.4,79.7 L284.8,79.7 L285.3,79.7 L285.7,79.7 L286.1,79.7 L286.6,79.7 L287.0,79.7 L287.5,79.7 L287.9,79.7 L288.4,79.7 L288.8,79.7 L289.3,79.7 L289.7,79.7 L290.1,79.7 L290.6,79.7 L291.0,79.7 L291.5,79.7 L291.9,79.7 L292.4,79.7 L292.8,79.7 L293.3,79.7 L293.7,79.7 L294.2,79.7 L294.6,79.7 L295.0,79.7 L295.5,79.7 L295.9,79.7 L296.4,79.7 L296.8,79.7 L297.3,79.7 L297.7,79.7 L298.2,79.7 L298.6,79.7 L299.0,79.7 L299.5,79.7 L299.9,79.7 L300.4,79.7 L300.8,79.7 L301.3,79.7 L301.7,79.7 L302.2,79.7 L302.6,79.7 L303.0,79.7 L303.5,79.7 L303.9,79.7 L304.4,79.7 L304.8,79.7 L305.3,79.7 L305.7,79.7 L306.2,79.7 L306.6,79.7 L307.0,79.7 L307.5,79.7 L307.9,79.7 L308.4,79.7 L308.8,79.7 L309.3,79.7 L309.7,79.7 L310.2,79.7 L310.6,79.7 L311.1,79.7 L311.5,79.7 L311.9,79.7 L312.4,79.7 L312.8,79.7 L313.3,79.7 L313.7,79.7 L314.2,79.7 L314.6,79.7 L315.1,79.7 L315.5,79.7" stroke="#ff00ff" stroke-width="1.4" stroke-dasharray="1.0 0.8"/>
<path d="M110.2,13.6 L110.4,14.4 L110.7,15.3 L110.9,16.1 L111.2,17.0 L111.4,17.9 L111.7,18.7 L111.9,19.6 L112.1,20.5 L112.4,21.3 L112.6,22.2 L112.8,23.1 L113.1,23.9 L113.3,24.8 L113.5,25.7 L113.7,26.5 L113.9,27.4 L114.2,28.3 L114.4,29.2 L114.6,30.0 L114.8,30.9 L115.0,31.8 L115.2,32.7 L115.4,33.5 L115.5,34.4 L115.7,35.3 L115.9,36.2 L116.1,37.0 L116.3,37.9 L116.5,38.8 L116.6,39.7 L116.8,40.6 L117.0,41.4 L117.2,42.3 L117.4,43.2 L117.5,44.1 L117.7,45.0 L117.9,45.8 L118.1,46.7 L118.3,47.6 L118.5,48.5 L118.7,49.3 L118.9,50.2 L119.1,51.1 L119.3,52.0 L119.5,52.8 L119.7,53.7 L120.0,54.6 L120.2,55.4 L120.5,56.3 L120.7,57.2 L120.9,58.0 L121.2,58.9 L121.4,59.8 L121.5,60.7 L121.7,61.5 L121.9,62.4 L122.0,63.3 L122.2,64.2 L122.3,65.1 L122.5,66.0 L122.6,66.8 L122.7,67.7 L122.9,68.6 L123.0,69.5 L123.1,70.4 L123.2,71.3 L123.4,72.2 L123.5,73.1 L123.6,74.0 L123.7,74.8 L123.8,75.7 L123.9,76.6 L124.0,77.5 L124.1,78.4 L124.2,79.3 L124.3,80.2 L124.4,81.1 L124.5,82.0 L124.6,82.9 L124.7,83.8 L124.8,84.7 L124.9,85.5 L125.0,86.4 L125.1,87.3 L125.2,88.2 L125.3,89.1 L125.4,90.0 L125.5,90.9 L125.5,91.8 L125.6,92.7 L125.7,93.6 L125.8,94.5 L125.9,95.4 L125.9,96.3 L126.0,97.2 L126.1,98.1 L126.1,99.0 L126.2,99.9 L126.3,100.8 L126.3,101.6 L126.4,102.5 L126.4,103.4 L126.5,104.3 L126.5,105.2 L126.6,106.1 L126.6,107.0 L126.7,107.9 L126.7,108.8 L126.8,109.7 L126.8,110.6 L126.9,111.5 L126.9,112.4 L127.0,113.3 L127.0,114.2 L127.0,115.1 L127.1,116.0 L127.1,116.9 L127.2,117.8 L127.2,118.7 L127.2,119.6 L127.3,120.5 L127.3,121.4 L127.4,122.3 L127.4,123.2 L127.4,124.1 L127.5,125.0 L127.5,125.8 L127.5,126.7 L127.6,127.6 L127.6,128.5 L127.6,129.4 L127.7,130.3 L127.7,131.2 L127.7,132.1 L127.8,133.0 L127.8,133.9 L127.8,134.8 L127.8,135.7 L127.9,136.6 L127.9,137.5 L127.9,138.4 L127.9,139.3 L128.0,140.2 L128.0,141.1 L128.0,142.0 L128.0,142.9 L128.0,143.8 L128.1,144.7 L128.1,145.6 L128.1,146.5 L128.1,147.4 L128.1,148.3 L128.1,149.2 L128.1,150.1 L128.2,151.0 L128.2,151.9 L128.2,152.8 L128.2,153.7 L128.2,154.6 L128.2,155.5 L128.3,156.4 L128.3,157.2 L128.3,158.1 L128.3,159.0 L128.3,159.9 L128.3,160.8 L128.3,161.7 L128.3,162.6 L128.4,163.5 L128.4,164.4 L128.4,165.3 L128.4,166.2 L128.4,167.1 L128.4,168.0 L128.4,168.9 L128.4,169.8 L128.4,170.7 L128.4,171.6 L128.4,172.5 L128.5,173.4 L128.5,174.3 L128.5,175.2 L128.5,176.1 L128.5,177.0 L128.5,177.9 L128.5,178.8 L128.5,179.7 L128.5,180.6 L128.5,181.5 L128.5,182.4 L128.5,183.3 L128.5,184.2 L128.5,185.1 L128.5,186.0 L128.5,186.9 L128.5,187.8 L128.5,188.7 L128.5,189.6 L128.5,190.5 L128.5,191.4 L128.5,192.2 L128.5,193.1 L128.5,194.0 L128.5,194.9 L128.5,195.8 L128.5,196.7 L128.5,197.6 L128.5,198.5 L128.5,199.4 L128.5,200.3 L128.5,201.2 L128.5,202.1 L128.5,203.0 L128.5,203.9 L128.5,204.8 L128.5,205.7 L128.5,206.6 L128.5,207.5 L128.5,208.4 L128.5,209.3 L128.6,210.2 L128.6,211.1 L128.6,212.0 L128.6,212.9 L128.6,213.8 L128.6,214.7 L128.6,215.6 L128.6,216.5 L128.6,217.4 L128.6,218.3 L128.6,219.2 L128.6,220.1 L128.6,221.0 L128.6,221.9 L128.6,222.8 L128.6,223.7 L128.6,224.6 L128.6,225.5 L128.6,226.4 L128.6,227.2 L128.6,228.1 L128.6,229.0 L128.6,229.9 L128.6,230.8 L128.6,231.7 L128.6,232.6 L128.6,233.5 L128.6,234.4 L128.6,235.3 L128.6,236.2 L128.6,237.1 L128.6,238.0 L128.6,238.9 L128.6,239.8 L128.6,240.7 L128.6,241.6 L128.6,242.5 L128.6,243.4 L128.6,244.3 L128.6,245.2 L128.6,246.1 L128.6,247.0 L128.6,247.9 L128.6,248.8 L128.6,249.7 L128.6,250.6 L128.6,251.5 L128.6,252.4 L128.6,253.3 L128.6,254.2 L128.6,255.1 L128.6,256.0 L128.6,256.9 L128.6,257.8 L128.6,258.7 L128.6,259.6 L128.6,260.5 L128.6,261.4 L128.6,262.3 L128.6,263.1 L128.6,264.0 L128.6,264.9 L128.6,265.8 L128.6,266.7 L128.6,267.6 L128.6,268.5 L128.6,269.4 L128.6,270.3 L128.6,271.2 L128.6,272.1 L128.6,273.0 L128.6,273.9 L128.6,274.8 L128.6,275.7 L128.6,276.6 L128.6,277.5 L128.6,278.4 L128.6,279.3 L128.6,280.2 M129.1,142.0 L129.2,141.2 L129.2,140.4 L129.3,139.6 L129.3,138.8 L129.4,138.0 L129.4,137.2 L129.5,136.4 L129.6,135.6 L129.6,134.8 L129.7,134.0 L129.7,133.2 L129.8,132.5 L129.8,131.7 L129.9,130.9 L129.9,130.1 L130.0,129.3 L130.0,128.5 L130.1,127.7 L130.1,126.9 L130.1,126.1 L130.2,125.3 L130.2,124.5 L130.3,123.7 L130.3,122.9 L130.3,122.1 L130.4,121.3 L130.4,120.5 L130.5,119.7 L130.5,118.9 L130.5,118.1 L130.5,117.3 L130.6,116.5 L130.6,115.7 L130.6,114.9 L130.6,114.1 L130.7,113.3 L130.7,112.5 L130.7,111.7 L130.7,110.9 L130.7,110.1 L130.8,109.3 L130.8,108.5 L130.8,107.7 L130.8,106.9 L130.9,106.1 L130.9,105.3 L130.9,104.6 L131.0,103.8 L131.0,103.0 L131.0,102.2 L131.1,101.4 L131.1,100.6 L131.2,99.6 L131.3,98.6 L131.4,97.6 L131.5,96.6 L131.6,95.5 L131.7,94.6 L131.8,93.7 L132.0,93.0 L132.1,92.4 L132.2,92.1 L132.3,92.0 L132.4,92.2 L132.6,92.6 L132.7,93.3 L132.8,94.1 L133.0,95.1 L133.1,96.1 L133.2,97.1 L133.3,98.2 L133.4,99.1 L133.5,100.0 L133.6,100.8 L133.6,101.6 L133.7,102.4 L133.7,103.2 L133.8,104.0 L133.8,104.8 L133.8,105.6 L133.9,106.4 L133.9,107.2 L134.0,108.0 L134.0,108.8 L134.0,109.6 L134.0,110.4 L134.1,111.1 L134.1,111.9 L134.1,112.7 L134.2,113.5 L134.2,114.3 L134.2,115.1 L134.3,115.9 L134.3,116.7 L134.3,117.5 L134.4,118.3 L134.4,119.1 L134.4,119.9 L134.5,120.7 L134.5,121.5 L134.6,122.3 L134.6,123.1 L134.7,123.9 L134.8,124.7 L134.8,125.5 L134.9,126.3 L135.0,127.1 L135.0,127.9 L135.1,128.7 L135.2,129.5 L135.3,130.3 L135.3,131.1 L135.4,131.9 L135.5,132.7 L135.5,133.4 L135.6,134.2 L135.6,135.0 L135.7,135.8 L135.7,136.6 L135.8,137.4 L135.8,138.2 L135.8,139.0 L135.8,139.8 L135.8,140.6 L135.9,141.4 L135.9,142.2 L135.9,143.0 L135.9,143.8 L135.9,144.6 L135.9,145.4 L135.9,146.2 L136.0,147.0 L136.0,147.8 L136.0,148.6 L136.0,149.4 L136.0,150.2 L136.0,151.0 L136.0,151.8 L136.0,152.6 L136.1,153.4 L136.1,154.2 L136.1,155.0 L136.1,155.8 L136.1,156.6 L136.1,157.4 L136.1,158.2 L136.1,159.0 L136.1,159.7 L136.1,160.5 L136.2,161.3 L136.2,162.1 L136.2,162.9 L136.2,163.7 L136.2,164.5 L136.2,165.3 L136.2,166.1 L136.2,166.9 L136.2,167.7 L136.2,168.5 L136.2,169.3 L136.2,170.1 L136.2,170.9 L136.2,171.7 L136.3,172.5 L136.3,173.3 L136.3,174.1 L136.3,174.9 L136.3,175.7 L136.3,176.5 L136.3,177.3 L136.3,178.1 L136.3,178.9 L136.3,179.7 L136.3,180.5 L136.3,181.3 L136.3,182.1 L136.3,182.9 L136.3,183.7 L136.3,184.5 L136.3,185.3 L136.3,186.1 L136.3,186.9 L136.3,187.7 L136.3,188.5 L136.3,189.3 L136.3,190.1 L136.3,190.9 L136.3,191.7 L136.3,192.5 L136.3,193.3 L136.3,194.1 L136.3,194.9 L136.3,195.6 L136.4,196.4 L136.4,197.2 L136.4,198.0 L136.4,198.8 L136.4,199.6 L136.4,200.4 L136.4,201.2 L136.4,202.0 L136.4,202.8 L136.4,203.6 L136.4,204.4 L136.4,205.2 L136.4,206.0 L136.4,206.8 L136.4,207.6 L136.4,208.4 L136.4,209.2 L136.4,210.0 L136.4,210.8 L136.4,211.6 L136.4,212.4 L136.4,213.2 L136.4,214.0 L136.4,214.8 L136.4,215.6 L136.4,216.4 L136.4,217.2 L136.4,218.0 L136.4,218.8 L136.4,219.6 L136.4,220.4 L136.4,221.2 L136.4,222.0 L136.4,222.8 L136.4,223.6 L136.4,224.4 L136.4,225.2 L136.4,226.0 L136.4,226.8 L136.4,227.6 L136.4,228.4 L136.4,229.1 L136.4,229.9 L136.4,230.7 L136.4,231.5 L136.4,232.3 L136.5,233.1 L136.5,233.9 L136.5,234.7 L136.5,235.5 L136.5,236.3 L136.5,237.1 L136.5,237.9 L136.5,238.7 L136.5,239.5 L136.5,240.3 L136.5,241.1 L136.5,241.9 L136.5,242.7 L136.5,243.5 L136.5,244.3 L136.5,245.1 L136.5,245.9 L136.5,246.7 L136.5,247.5 L136.5,248.3 L136.5,249.1 L136.5,249.9 L136.5,250.7 L136.5,251.5 L136.5,252.3 L136.5,253.1 L136.5,253.9 L136.5,254.7 L136.5,255.5 L136.5,256.3 L136.5,257.1 L136.5,257.9 L136.5,258.7 L136.5,259.5 L136.5,260.3 L136.5,261.1 L136.5,261.9 L136.5,262.7 L136.5,263.4 L136.5,264.2 L136.5,265.0 L136.5,265.8 L136.5,266.6 L136.5,267.4 L136.5,268.2 L136.5,269.0 L136.5,269.8 L136.5,270.6 L136.5,271.4 L136.5,272.2 L136.5,273.0 L136.5,273.8 L136.5,274.6 L136.5,275.4 L136.5,276.2 L136.5,277.0 L136.5,277.8 L136.5,278.6 L136.5,279.4 L136.5,280.2 M136.9,182.0 L136.9,181.1 L136.9,180.1 L136.9,179.2 L136.9,178.3 L136.9,177.4 L136.9,176.4 L136.9,175.5 L136.9,174.6 L136.9,173.6 L136.9,172.7 L136.9,171.8 L136.9,170.8 L136.9,169.9 L136.9,169.0 L137.0,168.1 L137.0,167.1 L137.0,166.2 L137.0,165.3 L137.0,164.4 L137.0,163.4 L137.0,162.5 L137.0,161.6 L137.0,160.6 L137.0,159.7 L137.0,158.8 L137.1,157.9 L137.1,156.9 L137.1,156.0 L137.1,155.1 L137.1,154.1 L137.1,153.2 L137.1,152.3 L137.2,151.4 L137.2,150.4 L137.2,149.5 L137.2,148.6 L137.2,147.7 L137.2,146.7 L137.3,145.8 L137.3,144.9 L137.3,144.0 L137.3,143.0 L137.3,142.1 L137.4,141.2 L137.4,140.3 L137.4,139.3 L137.4,138.4 L137.4,137.5 L137.5,136.5 L137.5,135.6 L137.6,134.7 L137.7,133.8 L137.7,132.8 L137.8,131.9 L137.9,131.0 L138.0,130.1 L138.1,129.2 L138.2,128.2 L138.3,127.3 L138.4,126.4 L138.5,125.5 L138.6,124.5 L138.7,123.6 L138.7,122.7 L138.8,121.8 L138.9,120.8 L139.0,119.9 L139.1,119.0 L139.1,118.1 L139.2,117.1 L139.3,116.2 L139.4,115.3 L139.4,114.4 L139.5,113.4 L139.6,112.5 L139.7,111.6 L139.7,110.6 L139.8,109.7 L139.9,108.8 L140.0,107.9 L140.0,106.9 L140.1,106.0 L140.2,105.1 L140.3,104.2 L140.4,103.3 L140.5,102.3 L140.6,101.4 L140.7,100.5 L140.9,99.6 L141.0,98.7 L141.1,97.7 L141.3,96.8 L141.4,95.9 L141.6,95.0 L141.8,94.1 L142.0,93.2 L142.2,92.3 L142.5,91.4 L142.8,90.5 L143.1,89.7 L143.5,88.8 L143.9,88.0 L144.4,87.2 L144.8,86.3 L145.2,85.5 L145.6,84.6 L145.9,83.8 L146.3,82.9 L146.6,82.0 L147.0,81.2 L147.3,80.3 L147.7,79.5 L148.2,78.7 L148.7,77.9 L149.2,77.1 L149.7,76.4 L150.3,75.6 L150.9,74.9 L151.5,74.1 L152.1,73.4 L152.8,72.8 L153.5,72.1 L154.1,71.5 L154.8,70.9 L155.5,70.4 L156.3,69.9 L157.1,69.4 L157.9,68.9 L158.7,68.4 L159.5,68.0 L160.4,67.6 L161.2,67.2 L162.1,66.8 L162.9,66.4 L163.8,66.1 L164.7,65.8 L165.5,65.4 L166.4,65.1 L167.3,64.9 L168.2,64.6 L169.1,64.4 L170.0,64.2 L170.9,64.0 L171.8,63.9 L172.7,63.7 L173.6,63.5 L174.6,63.4 L175.5,63.3 L176.4,63.1 L177.3,63.0 L178.2,62.9 L179.2,62.8 L180.1,62.6 L181.0,62.5 L181.9,62.4 L182.9,62.4 L183.8,62.3 L184.7,62.2 L185.6,62.1 L186.6,62.1 L187.5,62.0 L188.4,61.9 L189.3,61.9 L190.3,61.8 L191.2,61.8 L192.1,61.7 L193.0,61.7 L194.0,61.6 L194.9,61.6 L195.8,61.6 L196.8,61.5 L197.7,61.5 L198.6,61.5 L199.5,61.4 L200.5,61.4 L201.4,61.3 L202.3,61.3 L203.3,61.3 L204.2,61.3 L205.1,61.2 L206.0,61.2 L207.0,61.2 L207.9,61.1 L208.8,61.1 L209.7,61.1 L210.7,61.0 L211.6,61.0 L212.5,61.0 L213.5,61.0 L214.4,60.9 L215.3,60.9 L216.2,60.9 L217.2,60.9 L218.1,60.8 L219.0,60.8 L219.9,60.8 L220.9,60.8 L221.8,60.8 L222.7,60.7 L223.7,60.7 L224.6,60.7 L225.5,60.7 L226.4,60.7 L227.4,60.7 L228.3,60.6 L229.2,60.6 L230.1,60.6 L231.1,60.6 L232.0,60.6 L232.9,60.5 L233.9,60.5 L234.8,60.5 L235.7,60.5 L236.6,60.5 L237.6,60.5 L238.5,60.4 L239.4,60.4 L240.4,60.4 L241.3,60.4 L242.2,60.4 L243.1,60.4 L244.1,60.3 L245.0,60.3 L245.9,60.3 L246.8,60.3 L247.8,60.3 L248.7,60.3 L249.6,60.3 L250.6,60.3 L251.5,60.2 L252.4,60.2 L253.3,60.2 L254.3,60.2 L255.2,60.2 L256.1,60.2 L257.1,60.2 L258.0,60.2 L258.9,60.2 L259.8,60.2 L260.8,60.2 L261.7,60.2 L262.6,60.2 L263.5,60.2 L264.5,60.2 L265.4,60.2 L266.3,60.2 L267.3,60.2 L268.2,60.2 L269.1,60.2 L270.0,60.2 L271.0,60.2 L271.9,60.2 L272.8,60.2 L273.7,60.2 L274.7,60.2 L275.6,60.2 L276.5,60.2 L277.5,60.2 L278.4,60.2 L279.3,60.2 L280.2,60.2 L281.2,60.2 L282.1,60.2 L283.0,60.2 L284.0,60.2 L284.9,60.2 L285.8,60.2 L286.7,60.2 L287.7,60.2 L288.6,60.2 L289.5,60.2 L290.4,60.2 L291.4,60.2 L292.3,60.2 L293.2,60.2 L294.2,60.2 L295.1,60.2 L296.0,60.2 L296.9,60.2 L297.9,60.2 L298.8,60.2 L299.7,60.2 L300.7,60.2 L301.6,60.2 L302.5,60.2 L303.4,60.2 L304.4,60.2 L305.3,60.2 L306.2,60.2 L307.1,60.2 L308.1,60.2 L309.0,60.2 L309.9,60.2 L310.9,60.2 L311.8,60.2 L312.7,60.2 L313.6,60.2 L314.6,60.2 L315.5,60.2" stroke="#a52a2a" stroke-width="1.4" stroke-dasharray="5.4 1.6 0.9 1.6"/>
<path d="M124.4,13.6 L124.7,13.9 L125.2,14.4 L125.6,14.9 L126.0,15.4 L126.5,16.0 L126.9,16.5 L127.4,17.0 L127.8,17.5 L128.3,18.0 L128.7,18.5 L129.2,19.0 L129.6,19.5 L130.0,20.0 L130.5,20.5 L130.9,20.9 L131.4,21.4 L131.8,21.9 L132.3,22.4 L132.7,22.8 L133.2,23.3 L133.6,23.8 L134.0,24.2 L134.5,24.7 L134.9,25.1 L135.4,25.6 L135.8,26.0 L136.3,26.4 L136.7,26.9 L137.2,27.3 L137.6,27.7 L138.0,28.1 L138.5,28.5 L138.9,29.0 L139.4,29.4 L139.8,29.8 L140.3,30.2 L140.7,30.5 L141.2,30.9 L141.6,31.3 L142.1,31.7 L142.5,32.1 L142.9,32.4 L143.4,32.8 L143.8,33.2 L144.3,33.5 L144.7,33.9 L145.2,34.2 L145.6,34.6 L146.1,34.9 L146.5,35.2 L146.9,35.6 L147.4,35.9 L147.8,36.2 L148.3,36.5 L148.7,36.8 L149.2,37.1 L149.6,37.4 L150.1,37.7 L150.5,38.0 L150.9,38.3 L151.4,38.6 L151.8,38.9 L152.3,39.1 L152.7,39.4 L153.2,39.7 L153.6,39.9 L154.1,40.2 L154.5,40.4 L154.9,40.7 L155.4,40.9 L155.8,41.2 L156.3,41.4 L156.7,41.6 L157.2,41.9 L157.6,42.1 L158.1,42.3 L158.5,42.5 L159.0,42.7 L159.4,42.9 L159.8,43.1 L160.3,43.3 L160.7,43.5 L161.2,43.7 L161.6,43.9 L162.1,44.1 L162.5,44.3 L163.0,44.4 L163.4,44.6 L163.8,44.8 L164.3,45.0 L164.7,45.1 L165.2,45.3 L165.6,45.4 L166.1,45.6 L166.5,45.7 L167.0,45.9 L167.4,46.0 L167.8,46.2 L168.3,46.3 L168.7,46.4 L169.2,46.6 L169.6,46.7 L170.1,46.8 L170.5,47.0 L171.0,47.1 L171.4,47.2 L171.8,47.3 L172.3,47.4 L172.7,47.5 L173.2,47.6 L173.6,47.8 L174.1,47.9 L174.5,48.0 L175.0,48.1 L175.4,48.2 L175.9,48.3 L176.3,48.3 L176.7,48.4 L177.2,48.5 L177.6,48.6 L178.1,48.7 L178.5,48.8 L179.0,48.9 L179.4,48.9 L179.9,49.0 L180.3,49.1 L180.7,49.2 L181.2,49.2 L181.6,49.3 L182.1,49.4 L182.5,49.5 L183.0,49.5 L183.4,49.6 L183.9,49.7 L184.3,49.7 L184.7,49.8 L185.2,49.8 L185.6,49.9 L186.1,49.9 L186.5,50.0 L187.0,50.1 L187.4,50.1 L187.9,50.2 L188.3,50.2 L188.7,50.3 L189.2,50.3 L189.6,50.4 L190.1,50.4 L190.5,50.4 L191.0,50.5 L191.4,50.5 L191.9,50.6 L192.3,50.6 L192.8,50.7 L193.2,50.7 L193.6,50.7 L194.1,50.8 L194.5,50.8 L195.0,50.8 L195.4,50.9 L195.9,50.9 L196.3,51.0 L196.8,51.0 L197.2,51.0 L197.6,51.0 L198.1,51.1 L198.5,51.1 L199.0,51.1 L199.4,51.2 L199.9,51.2 L200.3,51.2 L200.8,51.2 L201.2,51.3 L201.6,51.3 L202.1,51.3 L202.5,51.3 L203.0,51.4 L203.4,51.4 L203.9,51.4 L204.3,51.4 L204.8,51.5 L205.2,51.5 L205.6,51.5 L206.1,51.5 L206.5,51.5 L207.0,51.6 L207.4,51.6 L207.9,51.6 L208.3,51.6 L208.8,51.6 L209.2,51.6 L209.7,51.7 L210.1,51.7 L210.5,51.7 L211.0,51.7 L211.4,51.7 L211.9,51.7 L212.3,51.8 L212.8,51.8 L213.2,51.8 L213.7,51.8 L214.1,51.8 L214.5,51.8 L215.0,51.8 L215.4,51.9 L215.9,51.9 L216.3,51.9 L216.8,51.9 L217.2,51.9 L217.7,51.9 L218.1,51.9 L218.5,51.9 L219.0,51.9 L219.4,52.0 L219.9,52.0 L220.3,52.0 L220.8,52.0 L221.2,52.0 L221.7,52.0 L222.1,52.0 L222.5,52.0 L223.0,52.0 L223.4,52.0 L223.9,52.0 L224.3,52.0 L224.8,52.1 L225.2,52.1 L225.7,52.1 L226.1,52.1 L226.6,52.1 L227.0,52.1 L227.4,52.1 L227.9,52.1 L228.3,52.1 L228.8,52.1 L229.2,52.1 L229.7,52.1 L230.1,52.1 L230.6,52.1 L231.0,52.1 L231.4,52.2 L231.9,52.2 L232.3,52.2 L232.8,52.2 L233.2,52.2 L233.7,52.2 L234.1,52.2 L234.6,52.2 L235.0,52.2 L235.4,52.2 L235.9,52.2 L236.3,52.2 L236.8,52.2 L237.2,52.2 L237.7,52.2 L238.1,52.2 L238.6,52.2 L239.0,52.2 L239.4,52.2 L239.9,52.2 L240.3,52.2 L240.8,52.2 L241.2,52.2 L241.7,52.2 L242.1,52.2 L242.6,52.3 L243.0,52.3 L243.5,52.3 L243.9,52.3 L244.3,52.3 L244.8,52.3 L245.2,52.3 L245.7,52.3 L246.1,52.3 L246.6,52.3 L247.0,52.3 L247.5,52.3 L247.9,52.3 L248.3,52.3 L248.8,52.3 L249.2,52.3 L249.7,52.3 L250.1,52.3 L250.6,52.3 L251.0,52.3 L251.5,52.3 L251.9,52.3 L252.3,52.3 L252.8,52.3 L253.2,52.3 L253.7,52.3 L254.1,52.3 L254.6,52.3 L255.0,52.3 L255.5,52.3 L255.9,52.3 L256.3,52.3 L256.8,52.3 L257.2,52.3 L257.7,52.3 L258.1,52.3 L258.6,52.3 L259.0,52.3 L259.5,52.3 L259.9,52.3 L260.4,52.3 L260.8,52.3 L261.2,52.3 L261.7,52.3 L262.1,52.3 L262.6,52.3 L263.0,52.3 L263.5,52.3 L263.9,52.3 L264.4,52.3 L264.8,52.3 L265.2,52.3 L265.7,52.3 L266.1,52.3 L266.6,52.3 L267.0,52.3 L267.5,52.3 L267.9,52.3 L268.4,52.3 L268.8,52.3 L269.2,52.3 L269.7,52.3 L270.1,52.3 L270.6,52.4 L271.0,52.4 L271.5,52.4 L271.9,52.4 L272.4,52.4 L272.8,52.4 L273.2,52.4 L273.7,52.4 L274.1,52.4 L274.6,52.4 L275.0,52.4 L275.5,52.4 L275.9,52.4 L276.4,52.4 L276.8,52.4 L277.3,52.4 L277.7,52.4 L278.1,52.4 L278.6,52.4 L279.0,52.4 L279.5,52.4 L279.9,52.4 L280.4,52.4 L280.8,52.4 L281.3,52.4 L281.7,52.4 L282.1,52.4 L282.6,52.4 L283.0,52.4 L283.5,52.4 L283.9,52.4 L284.4,52.4 L284.8,52.4 L285.3,52.4 L285.7,52.4 L286.1,52.4 L286.6,52.4 L287.0,52.4 L287.5,52.4 L287.9,52.4 L288.4,52.4 L288.8,52.4 L289.3,52.4 L289.7,52.4 L290.1,52.4 L290.6,52.4 L291.0,52.4 L291.5,52.4 L291.9,52.4 L292.4,52.4 L292.8,52.4 L293.3,52.4 L293.7,52.4 L294.2,52.4 L294.6,52.4 L295.0,52.4 L295.5,52.4 L295.9,52.4 L296.4,52.4 L296.8,52.4 L297.3,52.4 L297.7,52.4 L298.2,52.4 L298.6,52.4 L299.0,52.4 L299.5,52.4 L299.9,52.4 L300.4,52.4 L300.8,52.4 L301.3,52.4 L301.7,52.4 L302.2,52.4 L302.6,52.4 L303.0,52.4 L303.5,52.4 L303.9,52.4 L304.4,52.4 L304.8,52.4 L305.3,52.4 L305.7,52.4 L306.2,52.4 L306.6,52.4 L307.0,52.4 L307.5,52.4 L307.9,52.4 L308.4,52.4 L308.8,52.4 L309.3,52.4 L309.7,52.4 L310.2,52.4 L310.6,52.4 L311.1,52.4 L311.5,52.4 L311.9,52.4 L312.4,52.4 L312.8,52.4 L313.3,52.4 L313.7,52.4 L314.2,52.4 L314.6,52.4 L315.1,52.4 L315.5,52.4" stroke="#ff9f00" stroke-width="1.3" stroke-dasharray="5.4 1.6 0.9 1.6"/>
</g>
<path d="M75.83,280.2 v-2.5 M75.83,13.55 v2.5 M91.47,280.2 v-2.5 M91.47,13.55 v2.5 M102.56,280.2 v-2.5 M102.56,13.55 v2.5 M111.17,280.2 v-2.5 M111.17,13.55 v2.5 M118.20,280.2 v-2.5 M118.20,13.55 v2.5 M124.14,280.2 v-2.5 M124.14,13.55 v2.5 M129.29,280.2 v-2.5 M129.29,13.55 v2.5 M133.84,280.2 v-2.5 M133.84,13.55 v2.5 M137.90,280.2 v-5.3 M137.90,13.55 v5.3 M164.63,280.2 v-2.5 M164.63,13.55 v2.5 M180.27,280.2 v-2.5 M180.27,13.55 v2.5 M191.36,280.2 v-2.5 M191.36,13.55 v2.5 M199.97,280.2 v-2.5 M199.97,13.55 v2.5 M207.00,280.2 v-2.5 M207.00,13.55 v2.5 M212.94,280.2 v-2.5 M212.94,13.55 v2.5 M218.09,280.2 v-2.5 M218.09,13.55 v2.5 M222.64,280.2 v-2.5 M222.64,13.55 v2.5 M226.70,280.2 v-5.3 M226.70,13.55 v5.3 M253.43,280.2 v-2.5 M253.43,13.55 v2.5 M269.07,280.2 v-2.5 M269.07,13.55 v2.5 M280.16,280.2 v-2.5 M280.16,13.55 v2.5 M288.77,280.2 v-2.5 M288.77,13.55 v2.5 M295.80,280.2 v-2.5 M295.80,13.55 v2.5 M301.74,280.2 v-2.5 M301.74,13.55 v2.5 M306.89,280.2 v-2.5 M306.89,13.55 v2.5 M311.44,280.2 v-2.5 M311.44,13.55 v2.5 M49.1,270.17 h2.5 M315.5,270.17 h-2.5 M49.1,256.90 h2.5 M315.5,256.90 h-2.5 M49.1,250.10 h2.5 M315.5,250.10 h-2.5 M49.1,246.87 h5.3 M315.5,246.87 h-5.3 M49.1,236.84 h2.5 M315.5,236.84 h-2.5 M49.1,223.57 h2.5 M315.5,223.57 h-2.5 M49.1,216.77 h2.5 M315.5,216.77 h-2.5 M49.1,213.54 h5.3 M315.5,213.54 h-5.3 M49.1,203.50 h2.5 M315.5,203.50 h-2.5 M49.1,190.24 h2.5 M315.5,190.24 h-2.5 M49.1,183.44 h2.5 M315.5,183.44 h-2.5 M49.1,180.21 h5.3 M315.5,180.21 h-5.3 M49.1,170.17 h2.5 M315.5,170.17 h-2.5 M49.1,156.91 h2.5 M315.5,156.91 h-2.5 M49.1,150.11 h2.5 M315.5,150.11 h-2.5 M49.1,146.88 h5.3 M315.5,146.88 h-5.3 M49.1,136.84 h2.5 M315.5,136.84 h-2.5 M49.1,123.58 h2.5 M315.5,123.58 h-2.5 M49.1,116.77 h2.5 M315.5,116.77 h-2.5 M49.1,113.54 h5.3 M315.5,113.54 h-5.3 M49.1,103.51 h2.5 M315.5,103.51 h-2.5 M49.1,90.25 h2.5 M315.5,90.25 h-2.5 M49.1,83.44 h2.5 M315.5,83.44 h-2.5 M49.1,80.21 h5.3 M315.5,80.21 h-5.3 M49.1,70.18 h2.5 M315.5,70.18 h-2.5 M49.1,56.91 h2.5 M315.5,56.91 h-2.5 M49.1,50.11 h2.5 M315.5,50.11 h-2.5 M49.1,46.88 h5.3 M315.5,46.88 h-5.3 M49.1,36.85 h2.5 M315.5,36.85 h-2.5 M49.1,23.58 h2.5 M315.5,23.58 h-2.5 M49.1,16.78 h2.5 M315.5,16.78 h-2.5" stroke="#000" stroke-width="1" fill="none"/>
<path d="M50.00,280.2 H315.5 V13.55 H49.1 V279.10" fill="none" stroke="#000" stroke-width="1.25" stroke-linejoin="miter"/>
<g font-family="'Liberation Serif', serif" fill="#2b2b2b" style="font-kerning:none">
<text transform="translate(0.68,285.05) scale(1.099,1.000)" font-size="17.8">10</text>
<text transform="translate(19.95,279.75) scale(1.366,1.000)" font-size="14.0">−</text>
<text transform="translate(30.93,278.75) scale(1.087,1.000)" font-size="14.0">2</text>
<text transform="translate(0.68,251.72) scale(1.099,1.000)" font-size="17.8">10</text>
<text transform="translate(19.95,246.42) scale(1.366,1.000)" font-size="14.0">−</text>
<text transform="translate(30.85,245.42) scale(1.014,1.000)" font-size="14.0">1</text>
<text transform="translate(11.59,218.39) scale(1.093,1.000)" font-size="17.8">10</text>
<text transform="translate(31.05,212.09) scale(1.028,1.000)" font-size="14.0">0</text>
<text transform="translate(11.59,185.06) scale(1.093,1.000)" font-size="17.8">10</text>
<text transform="translate(30.85,178.76) scale(1.014,1.000)" font-size="14.0">1</text>
<text transform="translate(11.59,151.72) scale(1.093,1.000)" font-size="17.8">10</text>
<text transform="translate(30.93,145.42) scale(1.087,1.000)" font-size="14.0">2</text>
<text transform="translate(11.59,118.39) scale(1.093,1.000)" font-size="17.8">10</text>
<text transform="translate(30.89,112.09) scale(1.055,1.000)" font-size="14.0">3</text>
<text transform="translate(11.59,85.06) scale(1.093,1.000)" font-size="17.8">10</text>
<text transform="translate(31.34,78.76) scale(0.937,1.000)" font-size="14.0">4</text>
<text transform="translate(11.59,51.73) scale(1.093,1.000)" font-size="17.8">10</text>
<text transform="translate(30.72,45.43) scale(1.082,1.000)" font-size="14.0">5</text>
<text transform="translate(11.59,18.40) scale(1.093,1.000)" font-size="17.8">10</text>
<text transform="translate(30.99,12.10) scale(1.020,1.000)" font-size="14.0">6</text>
<text transform="translate(29.77,302.20) scale(1.106,1.000)" font-size="17.8">10</text>
<text transform="translate(49.16,296.90) scale(1.351,1.000)" font-size="14.0">−</text>
<text transform="translate(59.73,295.90) scale(1.035,1.000)" font-size="14.0">1</text>
<text transform="translate(123.87,302.20) scale(1.106,1.000)" font-size="17.8">10</text>
<text transform="translate(143.44,295.90) scale(1.045,1.000)" font-size="14.0">0</text>
<text transform="translate(212.67,302.20) scale(1.106,1.000)" font-size="17.8">10</text>
<text transform="translate(232.03,295.90) scale(1.035,1.000)" font-size="14.0">1</text>
<text transform="translate(301.47,302.20) scale(1.106,1.000)" font-size="17.8">10</text>
<text transform="translate(320.92,295.90) scale(1.105,1.000)" font-size="14.0">2</text>
<text transform="translate(161.99,328.10) scale(1.192,1.000)" font-size="17.8">tan</text>
<text transform="translate(192.55,328.10) scale(1.205,1.000)" font-size="17.8" font-style="italic">β</text>
<text transform="translate(359.62,34.80) scale(1.256,1.000)" font-size="17.8" font-style="italic">μ</text>
<text transform="translate(370.27,34.52) scale(1.098,1.000)" font-size="26.0">→</text>
<text transform="translate(398.93,34.80) scale(1.108,1.000)" font-size="17.8">e</text>
<text transform="translate(407.22,34.80) scale(1.482,1.000)" font-size="17.8" font-style="italic">γ</text>
<text transform="translate(354.32,60.37) scale(1.244,1.000)" font-size="17.8" font-style="italic">μ</text>
<text transform="translate(364.47,59.92) scale(1.098,1.000)" font-size="26.0">→</text>
<text transform="translate(393.15,60.37) scale(1.085,1.000)" font-size="17.8">eee</text>
<text transform="translate(325.52,85.94) scale(1.280,1.000)" font-size="17.8" font-style="italic">μ</text>
<text transform="translate(339.46,85.94) scale(1.056,1.000)" font-size="17.8">N</text>
<text transform="translate(354.18,85.42) scale(1.059,1.000)" font-size="26.0">→</text>
<text transform="translate(381.42,85.94) scale(1.123,1.000)" font-size="17.8">e</text>
<text transform="translate(392.66,85.94) scale(1.047,1.000)" font-size="17.8">N</text>
<text transform="translate(411.02,85.94) scale(1.194,1.000)" font-size="17.8">:</text>
<text transform="translate(352.91,111.51) scale(1.138,1.000)" font-size="17.8">(AF)</text>
<text transform="translate(399.93,111.51) scale(1.141,1.000)" font-size="17.8">Ti</text>
<text transform="translate(364.93,137.08) scale(1.106,1.000)" font-size="17.8">(U)</text>
<text transform="translate(399.93,137.08) scale(1.141,1.000)" font-size="17.8">Ti</text>
<text transform="translate(347.30,162.65) scale(1.156,1.000)" font-size="17.8">(AF)</text>
<text transform="translate(394.61,162.65) scale(1.090,1.000)" font-size="17.8">Au</text>
<text transform="translate(359.62,188.22) scale(1.119,1.000)" font-size="17.8">(U)</text>
<text transform="translate(394.61,188.22) scale(1.090,1.000)" font-size="17.8">Au</text>
</g>
<line x1="428.1" y1="29.9" x2="474.8" y2="29.9" stroke="#ff0000" stroke-width="1.3"/>
<line x1="428.1" y1="55.5" x2="474.8" y2="55.5" stroke="#219a21" stroke-width="0.9" stroke-dasharray="3.5 1.7"/>
<line x1="428.1" y1="106.8" x2="474.8" y2="106.8" stroke="#0000ff" stroke-width="1.2" stroke-dasharray="0.9 0.88"/>
<line x1="428.1" y1="132.3" x2="474.8" y2="132.3" stroke="#ff00ff" stroke-width="1.2" stroke-dasharray="0.9 0.88"/>
<line x1="428.1" y1="157.9" x2="474.8" y2="157.9" stroke="#a52a2a" stroke-width="1.2" stroke-dasharray="5.4 1.6 0.9 1.6"/>
<line x1="428.1" y1="183.6" x2="474.8" y2="183.6" stroke="#ff9f00" stroke-width="1.2" stroke-dasharray="5.4 1.6 0.9 1.6"/>
</svg>
</body></html>
